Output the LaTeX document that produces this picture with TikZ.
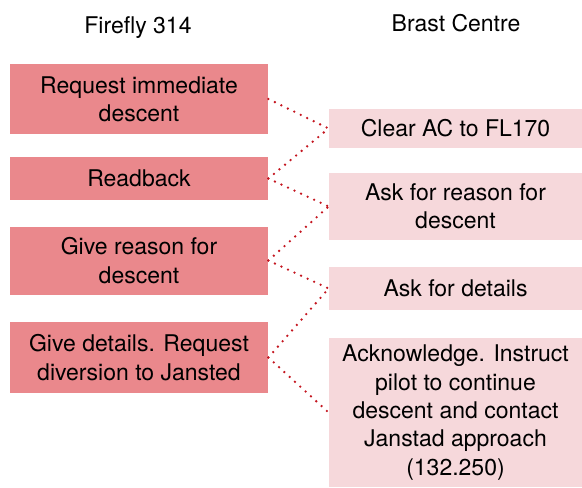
\documentclass[tikz,border=0pt]{standalone}
\usepackage{fontspec}
\setmainfont{TeX Gyre Heros}
\definecolor{pilotred}{RGB}{234,136,140}
\definecolor{atcpink}{RGB}{246,216,219}
\definecolor{dotred}{RGB}{196,22,32}
\begin{document}
\begin{tikzpicture}[x=0.5pt,y=-0.5pt,
	every node/.style={font=\fontsize{11.5}{14.2}\selectfont,align=center,inner sep=0pt},
	pilotbox/.style={fill=pilotred,minimum width=129pt},
	atcbox/.style={fill=atcpink,minimum width=126.5pt},
	talk/.style={draw=dotred,line width=1.3pt,line cap=round,dash pattern=on 0pt off 3.6pt}]
	\useasboundingbox (0,0) rectangle (582,487);
	%Column headings
	\node (hpilot) at (138,27.5) {Firefly 314};
	\node (hatc) at (456,23.5) {Brast Centre};
	%Pilot side
	\coordinate (p1) at (139,99);
	\coordinate (p2) at (139,178.5);
	\coordinate (p3) at (139,260.5);
	\coordinate (p4) at (139,357.5);
	\node [pilotbox,minimum height=35pt] (pilot1) at (p1) {Request immediate\\descent};
	\node [pilotbox,minimum height=21.5pt] (pilot2) at (p2) {Readback};
	\node [pilotbox,minimum height=34pt] (pilot3) at (p3) {Give reason for\\descent};
	\node [pilotbox,minimum height=35.5pt] (pilot4) at (p4) {Give details. Request\\diversion to Jansted};
	%Controller side
	\coordinate (c1) at (455.5,128.5);
	\coordinate (c2) at (455.5,206.5);
	\coordinate (c3) at (455.5,288.5);
	\coordinate (c4) at (455.5,412.5);
	\node [atcbox,minimum height=19.5pt] (atc1) at (c1) {Clear AC to FL170};
	\node [atcbox,minimum height=33.5pt] (atc2) at (c2) {Ask for reason for\\descent};
	\node [atcbox,minimum height=21.5pt] (atc3) at (c3) {Ask for details};
	\node [atcbox,minimum height=74.5pt] (atc4) at (c4) {Acknowledge. Instruct\\pilot to continue\\descent and contact\\Janstad approach\\(132.250)};
	%Dotted exchange lines
	\draw [talk] (pilot1.east) -- (atc1.west);
	\draw [talk] (pilot2.east) -- (atc1.west);
	\draw [talk] (pilot2.east) -- (atc2.west);
	\draw [talk] (pilot3.east) -- (atc2.west);
	\draw [talk] (pilot3.east) -- (atc3.west);
	\draw [talk] (pilot4.east) -- (atc3.west);
	\draw [talk] (pilot4.east) -- (atc4.west);
\end{tikzpicture}
\end{document}
